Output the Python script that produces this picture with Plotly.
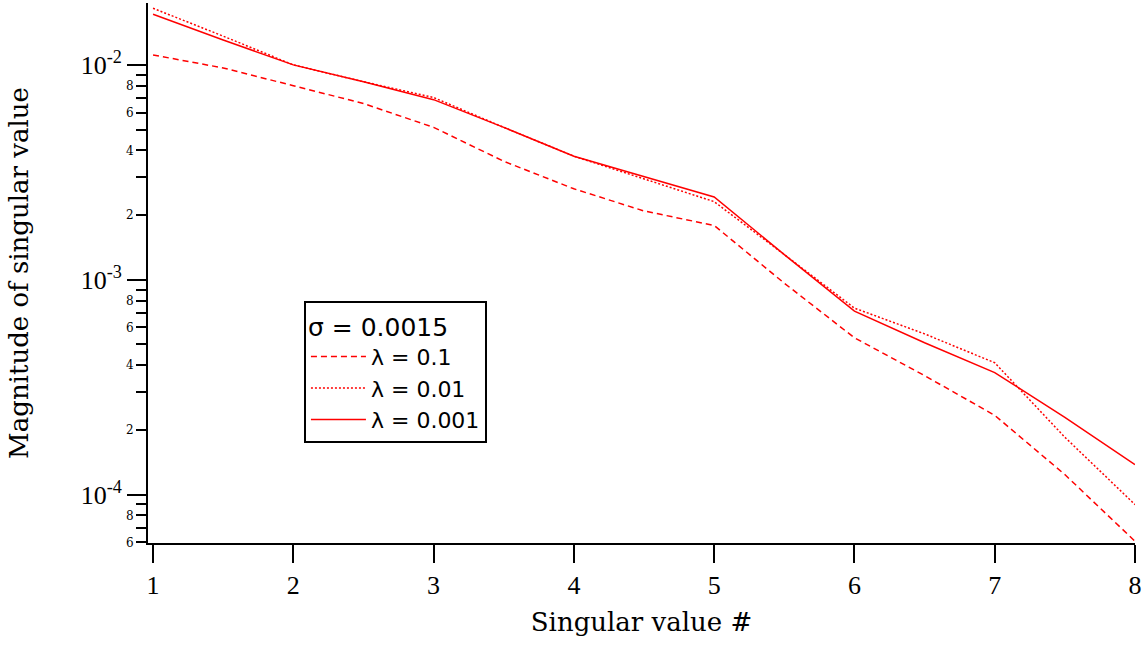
import plotly.graph_objects as go

# Singular value index (read at integer and half positions)
sv_index = [1, 1.5, 2, 2.5, 3, 3.5, 4, 4.5, 5, 5.5, 6, 6.5, 7, 7.5, 8]

# Magnitudes
mag_lambda_0p1 = [0.01112, 0.00968, 0.00800, 0.00661, 0.00512, 0.00356, 0.00265, 0.00209,
                  0.00179, 0.000964, 0.000537, 0.000358, 0.000234, 0.000124, 0.0000607]
mag_lambda_0p01 = [0.01834, 0.01361, 0.0100, 0.00835, 0.00705, 0.00512, 0.00376, 0.00294,
                   0.00231, 0.00131, 0.000738, 0.000560, 0.000411, 0.000185, 0.0000899]
mag_lambda_0p001 = [0.01720, 0.01305, 0.0100, 0.00835, 0.00689, 0.00512, 0.00376, 0.00301,
                    0.00243, 0.00131, 0.000715, 0.000509, 0.000370, 0.000229, 0.000138]

series_names = ["λ = 0.1", "λ = 0.01", "λ = 0.001"]
legend_title = "σ = 0.0015"

x_ticks = [1, 2, 3, 4, 5, 6, 7, 8]
decades = [1e-4, 1e-3, 1e-2]
decade_labels = ["10<sup>-4</sup>", "10<sup>-3</sup>", "10<sup>-2</sup>"]
labeled_mult = [2, 4, 6, 8]
unlabeled_mult = [3, 5, 7, 9]

RED = "#ff0000"
SERIF = "DejaVu Serif"
TICKF = "Liberation Serif"

y_lo, y_hi = -4.225, -1.712

fig = go.Figure()
fig.add_trace(go.Scatter(x=sv_index, y=mag_lambda_0p1, mode="lines", name=series_names[0],
                         line=dict(color=RED, width=1.5, dash="6px,4px")))
fig.add_trace(go.Scatter(x=sv_index, y=mag_lambda_0p01, mode="lines", name=series_names[1],
                         line=dict(color=RED, width=1.5, dash="2px,2px")))
fig.add_trace(go.Scatter(x=sv_index, y=mag_lambda_0p001, mode="lines", name=series_names[2],
                         line=dict(color=RED, width=1.5)))
# invisible carrier trace for the decade-tick axis
fig.add_trace(go.Scatter(x=sv_index, y=mag_lambda_0p001, yaxis="y2", mode="lines",
                         line=dict(width=0, color="rgba(0,0,0,0)"), showlegend=False,
                         hoverinfo="skip"))

minor_vals = []
major_vals = []
major_text = []
for d in [1e-5, 1e-4, 1e-3, 1e-2]:
    for m in labeled_mult:
        major_vals.append(m * d)
        major_text.append("%d" % m)
    for m in unlabeled_mult:
        minor_vals.append(m * d)

fig.update_layout(
    width=1144, height=646,
    margin=dict(l=148, r=9, t=3, b=103),
    paper_bgcolor="white", plot_bgcolor="white",
    showlegend=True,
    legend=dict(
        x=0.158, y=0.448, xanchor="left", yanchor="top",
        bordercolor="black", borderwidth=2, bgcolor="white",
        font=dict(family="DejaVu Sans", size=22, color="black"),
        title=dict(text=legend_title, font=dict(family="DejaVu Sans", size=25, color="black")),
        tracegroupgap=0, itemwidth=55,
    ),
    xaxis=dict(
        range=[0.964, 8.0], tickmode="array", tickvals=x_ticks,
        ticktext=[str(v) for v in x_ticks],
        ticks="outside", ticklen=18, tickwidth=2, tickcolor="black",
        showline=True, linecolor="black", linewidth=2, showgrid=False, zeroline=False,
        tickfont=dict(family=TICKF, size=26, color="black"),
        title=dict(text="Singular value #", font=dict(family=SERIF, size=26, color="black"),
                   standoff=14),
    ),
    yaxis=dict(
        type="log", range=[y_lo, y_hi], tickmode="array", tickvals=major_vals,
        ticktext=major_text,
        ticks="outside", ticklen=10, tickwidth=2, tickcolor="black",
        minor=dict(tickmode="array", tickvals=minor_vals, ticks="outside", ticklen=10,
                   tickwidth=2, tickcolor="black", showgrid=False),
        showline=True, linecolor="black", linewidth=2, showgrid=False, zeroline=False,
        tickfont=dict(family=SERIF, size=12, color="black"),
        title=dict(text="Magnitude of singular value",
                   font=dict(family=SERIF, size=26, color="black"), standoff=90),
    ),
    yaxis2=dict(
        type="log", range=[y_lo, y_hi], overlaying="y", anchor="x", side="left",
        tickmode="array", tickvals=decades, ticktext=decade_labels,
        ticks="outside", ticklen=20, tickwidth=2, tickcolor="black",
        showline=False, showgrid=False, zeroline=False,
        tickfont=dict(family=TICKF, size=26, color="black"),
    ),
)

fig.write_html("out.html", config={"displayModeBar": False},
               post_script="document.body.style.margin='0';")
